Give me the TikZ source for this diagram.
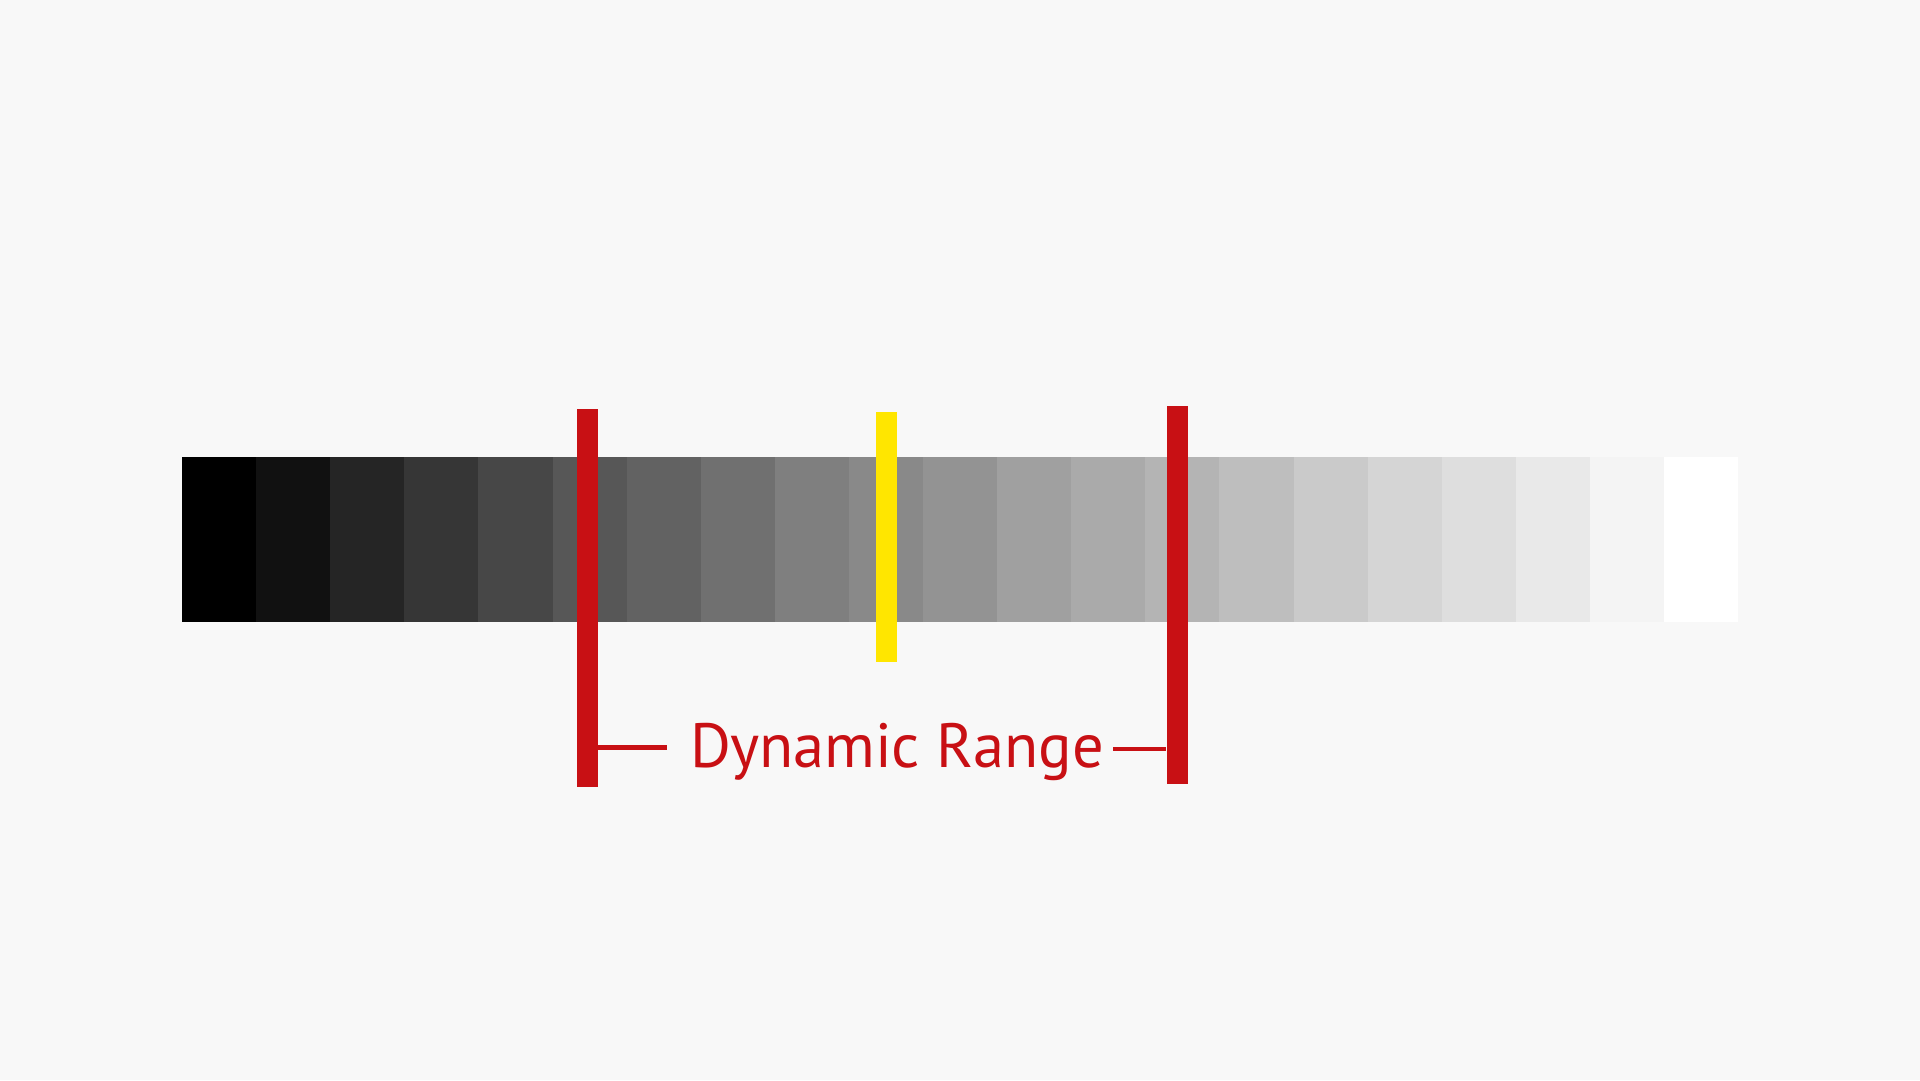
\documentclass[tikz,border=0pt]{standalone}
\usepackage{fontspec}
\setmainfont{PT Sans}
\definecolor{bgcol}{HTML}{F8F8F8}
\definecolor{rangered}{HTML}{C81014}
\definecolor{midyellow}{HTML}{FFE600}
\tikzset{
  limitbar/.style={fill=rangered, inner sep=0pt, minimum width=21pt, minimum height=378pt},
  midbar/.style={fill=midyellow, inner sep=0pt, minimum width=21pt, minimum height=250pt},
  rangeline/.style={draw=rangered, line width=4.5pt},
}
\begin{document}
\begin{tikzpicture}[x=1pt,y=-1pt]
\fill[bgcol] (0,0) rectangle (1920,1080);
\useasboundingbox (0,0) rectangle (1920,1080);
% grey steps, black to white
\foreach \g [count=\i from 0] in {0,17,37,54,71,87,98,112,127,137,147,160,170,180,190,202,213,222,233,244,255}
  \fill[color={rgb,255:red,\g;green,\g;blue,\g}] ({182+74.1*\i},457) rectangle ({182+74.1*(\i+1)},622);
\node[limitbar] (lo) at (587,598) {};
\node[limitbar] (hi) at (1177,595) {};
\node[midbar] (mid) at (886.5,537) {};
\node[anchor=base west, inner sep=0pt, text=rangered, font=\fontsize{62.5}{62.5}\selectfont] (lbl) at (690,767) {Dynamic Range};
\coordinate (lblL) at (667,747.5);
\coordinate (lblR) at (1113,749);
\draw[rangeline] (lo.east |- lblL) -- (lblL);
\draw[rangeline] (lblR) -- (hi.west |- lblR);
\end{tikzpicture}
\end{document}
